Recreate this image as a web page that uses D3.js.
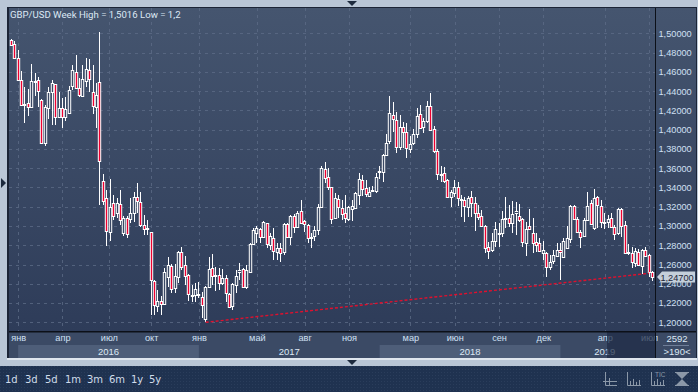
<!DOCTYPE html>
<html>
<head>
<meta charset="utf-8">
<script src="https://cdnjs.cloudflare.com/ajax/libs/d3/7.8.5/d3.min.js"></script>
<style>
    html, body { margin: 0; padding: 0; background: #b9c6d6; overflow: hidden; }
    text { font-family: "Liberation Sans", Arial, sans-serif; }
</style>
</head>
<body>
<script>
const open = [1.4931,1.4890,1.4744,1.4516,1.4257,1.4277,1.4236,1.4496,1.4516,1.4308,1.3862,1.4225,1.4391,1.4475,1.4132,1.4225,1.4132,1.4173,1.4454,1.4599,
    1.4433,1.4350,1.4506,1.4620,1.4391,1.4236,1.4496,1.3467,1.3291,1.2938,1.3239,1.3135,1.3228,1.2927,1.3083,1.3073,1.3135,1.3301,1.3249,1.3010,
    1.2969,1.2938,1.2429,1.2169,1.2221,1.2190,1.2470,1.2585,1.2356,1.2470,1.2730,1.2595,1.2491,1.2273,1.2283,1.2283,1.2263,1.2034,1.2366,1.2564,
    1.2481,1.2491,1.2408,1.2460,1.2294,1.2169,1.2387,1.2522,1.2553,1.2366,1.2522,1.2813,1.2927,1.2969,1.2886,1.3031,1.2803,1.2875,1.2730,1.2772,
    1.2730,1.3021,1.2886,1.3104,1.2989,1.3156,1.3052,1.3010,1.2875,1.2896,1.2958,1.3197,1.3592,1.3509,1.3405,1.3083,1.3280,1.3187,1.3135,1.3073,
    1.3176,1.3187,1.3322,1.3478,1.3395,1.3311,1.3363,1.3363,1.3561,1.3561,1.3737,1.3883,1.4153,1.4100,1.3820,1.4028,1.3976,1.3799,1.3862,1.3955,
    1.4163,1.4028,1.4090,1.4246,1.4007,1.3779,1.3530,1.3550,1.3478,1.3301,1.3343,1.3405,1.3280,1.3270,1.3197,1.3301,1.3239,1.3135,1.3104,1.3000,
    1.2782,1.2751,1.2844,1.2917,1.2927,1.3073,1.3083,1.3031,1.3135,1.3104,1.3073,1.2823,1.3000,1.2927,1.2834,1.2823,1.2719,1.2719,1.2574,1.2636,
    1.2688,1.2751,1.2678,1.2772,1.2865,1.3207,1.3073,1.2938,1.2896,1.3062,1.3239,1.2979,1.3301,1.3207,1.3042,1.3042,1.3083,1.2989,1.2927,1.3176,
    1.3010,1.2719,1.2719,1.2616,1.2730,1.2585,1.2751,1.2699,1.2522];
const high = [1.4941,1.4921,1.4827,1.4610,1.4443,1.4423,1.4682,1.4589,1.4547,1.4319,1.4256,1.4443,1.4516,1.4475,1.4391,1.4329,1.4339,1.4454,1.4672,1.4776,
    1.4537,1.4672,1.4745,1.4734,1.4672,1.4485,1.5016,1.3540,1.3374,1.3488,1.3322,1.3291,1.3374,1.3104,1.3104,1.3291,1.3353,1.3447,1.3353,1.3114,
    1.3062,1.2938,1.2439,1.2335,1.2273,1.2564,1.2678,1.2605,1.2605,1.2740,1.2782,1.2688,1.2502,1.2387,1.2408,1.2418,1.2315,1.2377,1.2678,1.2709,
    1.2574,1.2564,1.2553,1.2491,1.2304,1.2408,1.2543,1.2616,1.2564,1.2595,1.2823,1.2979,1.3000,1.2979,1.3052,1.3031,1.2927,1.2979,1.2823,1.2823,
    1.3031,1.3031,1.3114,1.3125,1.3156,1.3270,1.3062,1.3021,1.2927,1.3000,1.3228,1.3623,1.3664,1.3602,1.3405,1.3343,1.3322,1.3270,1.3322,1.3207,
    1.3270,1.3353,1.3550,1.3530,1.3478,1.3405,1.3415,1.3550,1.3623,1.3748,1.3955,1.4350,1.4288,1.4183,1.4153,1.4080,1.4069,1.3935,1.4007,1.4225,
    1.4257,1.4121,1.4298,1.4381,1.4038,1.3799,1.3623,1.3613,1.3488,1.3374,1.3478,1.3457,1.3322,1.3301,1.3311,1.3363,1.3301,1.3218,1.3166,1.3010,
    1.2834,1.2927,1.3042,1.3031,1.3156,1.3301,1.3218,1.3260,1.3249,1.3228,1.3083,1.3042,1.3176,1.3083,1.2927,1.2875,1.2844,1.2730,1.2699,1.2751,
    1.2823,1.2823,1.2875,1.3000,1.3218,1.3218,1.3093,1.2958,1.3083,1.3353,1.3270,1.3384,1.3311,1.3270,1.3135,1.3114,1.3135,1.3010,1.3187,1.3187,
    1.3052,1.2813,1.2782,1.2772,1.2761,1.2761,1.2782,1.2709,1.2533];
const low = [1.4869,1.4734,1.4506,1.4246,1.4069,1.4142,1.4236,1.4350,1.4236,1.3862,1.3831,1.4111,1.4048,1.4048,1.4132,1.4017,1.4090,1.4163,1.4412,1.4423,
    1.4339,1.4339,1.4443,1.4391,1.4163,1.4017,1.3218,1.3218,1.2792,1.2844,1.3062,1.3083,1.3010,1.2896,1.2875,1.3031,1.3042,1.3135,1.2989,1.2906,
    1.2906,1.2076,1.2076,1.2107,1.2076,1.2180,1.2366,1.2304,1.2304,1.2408,1.2543,1.2387,1.2221,1.2211,1.2211,1.2252,1.2045,1.2000,1.2366,1.2387,
    1.2325,1.2335,1.2387,1.2211,1.2159,1.2128,1.2304,1.2439,1.2356,1.2346,1.2522,1.2803,1.2823,1.2823,1.2875,1.2772,1.2751,1.2647,1.2647,1.2626,
    1.2699,1.2875,1.2803,1.2927,1.2989,1.3021,1.2938,1.2823,1.2772,1.2844,1.2906,1.3197,1.3447,1.3374,1.3021,1.3083,1.3083,1.3062,1.3031,1.3052,
    1.3052,1.3176,1.3218,1.3311,1.3301,1.3301,1.3353,1.3343,1.3488,1.3457,1.3727,1.3851,1.3976,1.3758,1.3789,1.3810,1.3706,1.3758,1.3841,1.3914,
    1.4007,1.3966,1.4069,1.3997,1.3758,1.3478,1.3457,1.3447,1.3301,1.3197,1.3301,1.3207,1.3093,1.3042,1.3093,1.3093,1.2948,1.3062,1.2989,1.2719,
    1.2657,1.2730,1.2782,1.2782,1.2886,1.2979,1.2989,1.2927,1.2906,1.3042,1.2782,1.2688,1.2958,1.2719,1.2730,1.2730,1.2647,1.2470,1.2543,1.2605,
    1.2678,1.2439,1.2668,1.2772,1.2823,1.3062,1.2927,1.2772,1.2886,1.3062,1.3010,1.2958,1.2979,1.2979,1.2969,1.2979,1.2979,1.2855,1.2906,1.2886,
    1.2719,1.2699,1.2564,1.2574,1.2585,1.2502,1.2678,1.2470,1.2429];
const close = [1.4879,1.4744,1.4516,1.4257,1.4267,1.4236,1.4506,1.4506,1.4402,1.3862,1.4236,1.4391,1.4485,1.4132,1.4225,1.4132,1.4215,1.4412,1.4620,1.4433,
    1.4360,1.4526,1.4630,1.4526,1.4246,1.4360,1.3675,1.3260,1.2948,1.3197,1.3104,1.3239,1.3062,1.3083,1.2917,1.3135,1.3301,1.3260,1.3010,1.2969,
    1.2979,1.2439,1.2180,1.2221,1.2190,1.2522,1.2595,1.2346,1.2481,1.2730,1.2574,1.2481,1.2294,1.2283,1.2346,1.2294,1.2180,1.2366,1.2553,1.2481,
    1.2491,1.2408,1.2460,1.2304,1.2159,1.2398,1.2481,1.2543,1.2366,1.2543,1.2813,1.2958,1.2979,1.2886,1.3042,1.2813,1.2896,1.2740,1.2772,1.2719,
    1.3021,1.2886,1.3104,1.2989,1.3135,1.3031,1.3021,1.2875,1.2886,1.2958,1.3197,1.3602,1.3498,1.3405,1.3073,1.3291,1.3197,1.3125,1.3083,1.3197,
    1.3207,1.3343,1.3488,1.3384,1.3332,1.3353,1.3374,1.3509,1.3571,1.3737,1.3862,1.4173,1.4111,1.3820,1.4028,1.3976,1.3810,1.3851,1.3955,1.4142,
    1.4017,1.4090,1.4246,1.3997,1.3779,1.3540,1.3540,1.3467,1.3301,1.3353,1.3405,1.3291,1.3270,1.3207,1.3291,1.3239,1.3135,1.3093,1.3000,1.2772,
    1.2740,1.2844,1.2969,1.2927,1.3073,1.3083,1.3031,1.3125,1.3156,1.3062,1.2834,1.2969,1.2969,1.2823,1.2803,1.2740,1.2751,1.2574,1.2626,1.2699,
    1.2751,1.2730,1.2844,1.2875,1.3207,1.3073,1.2938,1.2886,1.3062,1.3207,1.3021,1.3291,1.3218,1.3042,1.3031,1.3073,1.2989,1.2917,1.3176,1.3000,
    1.2719,1.2730,1.2626,1.2740,1.2595,1.2751,1.2688,1.2522,1.2470];

const priceTicks = [1.20,1.22,1.24,1.26,1.28,1.30,1.32,1.34,1.36,1.38,1.40,1.42,1.44,1.46,1.48,1.50];
const monthLabels = ["янв","апр","июл","окт","янв","май","авг","ноя","мар","июн","сен","дек","апр","июл"];
const monthWeeks = [2,15,28.6,41,55,72,86,99,117,130,143,156,174,187];
const yearLabels = ["2016","2017","2018","2019"];
const yearStarts = [2,55,108,161];
const yearEnds = [55,108,161,187];
const trendWeeks = [57,187];
const trendPrices = [1.2000,1.2509];
const periodLabels = ["1d","3d","5d","1m","3m","6m","1y","5y"];
const periodX = [5,25,45,65,87,109,131,149];
const lastPrice = 1.2470;

const width = 698, height = 392;
const plot = {left: 9, right: 655, top: 8, bottom: 331, axisBottom: 358, panelRight: 696};

const x = d3.scaleLinear().domain([0, open.length - 1]).range([11.3, 652.5]);
const y = d3.scaleLinear().domain([1.2, 1.5]).range([322.3, 33.3]);

const svg = d3.select("body").append("svg")
    .attr("width", width)
    .attr("height", height)
    .style("display", "block");

const defs = svg.append("defs");
const grad = defs.append("linearGradient")
    .attr("id", "panelGrad")
    .attr("gradientUnits", "userSpaceOnUse")
    .attr("x1", 0).attr("x2", 0)
    .attr("y1", plot.top).attr("y2", plot.bottom);
grad.append("stop").attr("offset", 0).attr("stop-color", "#45556f");
grad.append("stop").attr("offset", 1).attr("stop-color", "#2e3c59");

const dots = defs.append("pattern")
    .attr("id", "dots")
    .attr("patternUnits", "userSpaceOnUse")
    .attr("width", 3).attr("height", 3);
dots.append("rect").attr("width", 3).attr("height", 3).attr("fill", "#1f3250");
dots.append("rect").attr("width", 1).attr("height", 1).attr("fill", "#2a3d5b");

// frame and panels
svg.append("rect").attr("width", width).attr("height", height).attr("fill", "#b9c6d6");
svg.append("rect").attr("x", 0).attr("y", 366).attr("width", width).attr("height", 26).attr("fill", "url(#dots)");
svg.append("rect").attr("x", 7).attr("y", plot.top - 1).attr("width", plot.panelRight - 6).attr("height", plot.axisBottom - plot.top + 2).attr("fill", "#1b2436");
svg.append("rect").attr("x", plot.left).attr("y", plot.top).attr("width", plot.panelRight - plot.left).attr("height", plot.bottom - plot.top).attr("fill", "url(#panelGrad)");
svg.append("rect").attr("x", plot.left).attr("y", plot.bottom + 1).attr("width", plot.panelRight - plot.left).attr("height", plot.axisBottom - plot.bottom - 1).attr("fill", "#3b4a65");
svg.append("rect").attr("x", 7).attr("y", plot.axisBottom).attr("width", plot.panelRight - 6).attr("height", 2).attr("fill", "#dfe6ee");

// year bands
svg.selectAll(".yearBand")
    .data(yearStarts.filter((d, i) => i % 2 == 0))
    .enter().append("rect")
    .attr("class", "yearBand")
    .attr("x", d => x(d))
    .attr("y", 345)
    .attr("width", d => x(yearEnds[yearStarts.indexOf(d)]) - x(d))
    .attr("height", plot.axisBottom - 345)
    .attr("fill", "#4e5e79");

// grid
const grid = svg.append("g").attr("stroke", "#5e6d88").attr("stroke-dasharray", "3,4").attr("opacity", 0.75);
grid.selectAll(".hgrid")
    .data(priceTicks)
    .enter().append("line")
    .attr("x1", plot.left).attr("x2", plot.right)
    .attr("y1", d => Math.round(y(d)) + 0.5)
    .attr("y2", d => Math.round(y(d)) + 0.5);
grid.selectAll(".vgrid")
    .data(monthWeeks)
    .enter().append("line")
    .attr("y1", plot.top).attr("y2", plot.bottom)
    .attr("x1", d => Math.round(x(d)) + 0.5)
    .attr("x2", d => Math.round(x(d)) + 0.5);

// candles
const candles = svg.selectAll(".candle")
    .data(d3.range(open.length))
    .enter().append("g")
    .attr("class", "candle");

candles.append("line")
    .attr("stroke", "#ffffff")
    .attr("x1", i => Math.floor(x(i)) + 0.5)
    .attr("x2", i => Math.floor(x(i)) + 0.5)
    .attr("y1", i => Math.round(y(high[i])))
    .attr("y2", i => Math.round(y(low[i])));

candles.append("rect")
    .attr("stroke", "#ffffff")
    .attr("fill", i => close[i] < open[i] ? "#ee0030" : "#3a4864")
    .attr("x", i => Math.floor(x(i)) + 0.5 - 1.2)
    .attr("width", 2.4)
    .attr("y", i => Math.round(y(Math.max(open[i], close[i]))) + 0.5)
    .attr("height", i => Math.max(1, Math.round(y(Math.min(open[i], close[i]))) - Math.round(y(Math.max(open[i], close[i])))));

// trend line
svg.append("line")
    .attr("x1", x(trendWeeks[0])).attr("y1", y(trendPrices[0]))
    .attr("x2", x(trendWeeks[1])).attr("y2", y(trendPrices[1]))
    .attr("stroke", "#e0102e")
    .attr("stroke-width", 1.4)
    .attr("stroke-dasharray", "3,2");

// axes
const yAxis = d3.axisRight(y)
    .tickValues(priceTicks)
    .tickSize(0)
    .tickPadding(0)
    .tickFormat(d => d3.format(".5f")(d).replace(".", ","));
const yG = svg.append("g")
    .attr("transform", "translate(658.5,0)")
    .call(yAxis);
yG.select(".domain").remove();
yG.selectAll("text").attr("fill", "#d0e0f4").style("font-size", "9.2px");

const xAxis = d3.axisBottom(x)
    .tickValues(monthWeeks)
    .tickSize(0)
    .tickPadding(0)
    .tickFormat((d, i) => monthLabels[i]);
const xG = svg.append("g")
    .attr("transform", "translate(0,334)")
    .call(xAxis);
xG.select(".domain").remove();
xG.selectAll("text").attr("fill", "#d0e0f4").style("font-size", "9.2px");

svg.selectAll(".yearLabel")
    .data(yearLabels)
    .enter().append("text")
    .attr("class", "yearLabel")
    .attr("x", (d, i) => i == 3 ? x(174) : (x(yearStarts[i]) + x(yearEnds[i])) / 2)
    .attr("y", 355)
    .attr("text-anchor", "middle")
    .attr("fill", "#dce8f4")
    .style("font-size", "9.5px")
    .text(d => d);

// dimmed end of the axis
svg.append("rect").attr("x", 607).attr("y", plot.bottom + 1).attr("width", 48).attr("height", plot.axisBottom - plot.bottom - 1).attr("fill", "#1e2b45").attr("opacity", 0.72);

// black axis rules
svg.append("rect").attr("x", plot.left).attr("y", plot.bottom).attr("width", plot.panelRight - plot.left).attr("height", 1.5).attr("fill", "#0c1018");
svg.append("rect").attr("x", plot.right).attr("y", plot.top).attr("width", 1).attr("height", plot.axisBottom - plot.top).attr("fill", "#0c1018");

svg.append("text")
    .attr("x", 10).attr("y", 18)
    .attr("fill", "#dce8f4")
    .style("font-family", "Roboto, sans-serif")
    .style("font-size", "9.6px")
    .text("GBP/USD Week High = 1,5016 Low = 1,2");

// last price marker
const lastY = y(lastPrice);
svg.append("path")
    .attr("d", "M657," + lastY + "L662," + (lastY - 5.5) + "L695,"  + (lastY - 5.5) + "L695," + (lastY + 5.5) + "L662," + (lastY + 5.5) + "Z")
    .attr("fill", "#c4cfda");
svg.append("text")
    .attr("x", 677).attr("y", lastY + 3.5)
    .attr("text-anchor", "middle")
    .attr("fill", "#1c2638")
    .style("font-size", "9.2px")
    .text(d3.format(".5f")(lastPrice).replace(".", ","));

// bottom right counters
svg.append("text").attr("x", 677).attr("y", 342).attr("text-anchor", "middle").attr("fill", "#dce8f4").style("font-size", "9.5px").text("2592");
svg.append("rect").attr("x", 663).attr("y", 345).attr("width", 26).attr("height", 1).attr("fill", "#6f7e98");
svg.append("text").attr("x", 677).attr("y", 355).attr("text-anchor", "middle").attr("fill", "#dce8f4").style("font-size", "9.5px").text(">190<");

// little arrows on the frame
const arrow = "#1d2a3e";
svg.append("path").attr("d", "M347,1L357,1L352,6Z").attr("fill", arrow);
svg.append("path").attr("d", "M347,360L357,360L352,365Z").attr("fill", arrow);
svg.append("path").attr("d", "M1,178L6,183L1,188Z").attr("fill", arrow);

// period buttons
svg.selectAll(".period")
    .data(periodLabels)
    .enter().append("text")
    .attr("class", "period")
    .attr("x", (d, i) => periodX[i])
    .attr("y", 383)
    .attr("fill", "#d0dcea")
    .style("font-family", "'DejaVu Sans', sans-serif")
    .style("font-size", "10px")
    .text(d => d);

// toolbar icons
const icons = svg.append("g").attr("fill", "none").attr("stroke", "#8b98a8");
icons.append("path").attr("d", "M605.5,372V385.5H617M603,381.5H617M609.5,378V385");
icons.append("path").attr("d", "M627.5,372V385.5H641M630.5,385V381M633.5,385V379M636.5,385V382M639.5,385V380");
icons.append("path").attr("d", "M651.5,372V385.5H665M654.5,385V381M657.5,385V379M660.5,385V382M663.5,385V380");
icons.append("text").attr("x", 655).attr("y", 377).attr("fill", "#8b98a8").attr("stroke", "none").style("font-size", "6.5px").text("TIC");
icons.append("path").attr("d", "M675,372.5H689M675,385.5H689");
icons.append("path").attr("d", "M676,373H688L682,379L688,385H676L682,379Z").attr("fill", "#8b98a8").attr("stroke", "none");
</script>
</body>
</html>
